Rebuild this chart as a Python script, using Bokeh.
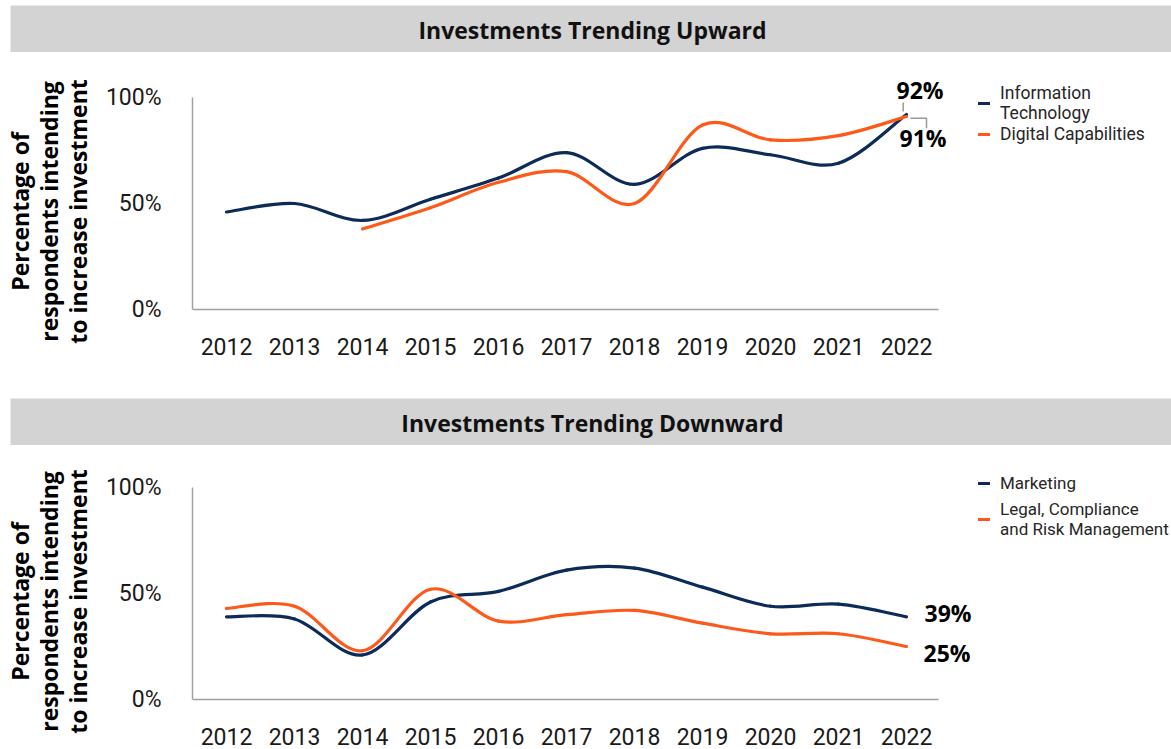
from bokeh.plotting import figure
from bokeh.models import (Range1d, FixedTicker, PrintfTickFormatter, Label,
                          Legend, LegendItem, ColumnDataSource, Spacer)
from bokeh.layouts import column, row
from bokeh.embed import file_html
from bokeh.resources import INLINE

# ---------------- data ----------------
years = [2012, 2013, 2014, 2015, 2016, 2017, 2018, 2019, 2020, 2021, 2022]
it_vals = [46, 50, 42, 52, 62, 74, 59, 76, 73, 69, 92]
dc_vals = [None, None, 38, 48, 60, 65, 50, 87, 80, 82, 91]
mk_vals = [39, 38, 21, 46, 51, 61, 62, 53, 44, 45, 39]
lc_vals = [43, 44, 23, 52, 37, 40, 42, 36, 31, 31, 25]
y_ticks = [0, 50, 100]

top_title = "Investments Trending Upward"
bottom_title = "Investments Trending Downward"
y_title = "Percentage of\nrespondents intending\nto increase investment"
top_names = ["Information\nTechnology", "Digital Capabilities"]
bottom_names = ["Marketing", "Legal, Compliance\nand Risk Management"]

# ---------------- style ----------------
NAVY = "#0d2b58"
ORANGE = "#fc5a1a"
HEAD = "#d3d3d3"
AXIS = "#a0a0a0"
LEAD = "#9a9a9a"
FONT = "Roboto"
BFONT = "Open Sans"
W = 1171
LEFT = 192          # frame left edge (px)
PXX = 68.0          # px per year
PXY = 2.12          # px per percent
X0 = 2011.5
X_AXIS_END = 2022.47
X1 = X0 + (W - LEFT) / PXX
HEAD_X = 10         # header band starts here


def smooth(xs, ys):
    """Bezier segments (Excel-style smoothed line) built from the data points."""
    pts = [(x, y) for x, y in zip(xs, ys) if y is not None]
    n = len(pts)
    d = dict(x0=[], y0=[], x1=[], y1=[], cx0=[], cy0=[], cx1=[], cy1=[])
    for i in range(n - 1):
        p0, p1 = pts[i], pts[i + 1]
        pm = pts[i - 1] if i > 0 else p0
        pp = pts[i + 2] if i + 2 < n else p1
        d["x0"].append(p0[0]); d["y0"].append(p0[1])
        d["x1"].append(p1[0]); d["y1"].append(p1[1])
        d["cx0"].append(p0[0] + (p1[0] - pm[0]) / 6.0)
        d["cy0"].append(p0[1] + (p1[1] - pm[1]) / 6.0)
        d["cx1"].append(p1[0] - (pp[0] - p0[0]) / 6.0)
        d["cy1"].append(p1[1] - (pp[1] - p0[1]) / 6.0)
    return ColumnDataSource(d)


def header(text, h):
    p = figure(width=W - HEAD_X, height=h, x_range=Range1d(0, 1), y_range=Range1d(0, 1),
               x_axis_type=None, y_axis_type=None, toolbar_location=None,
               output_backend="svg", title=None,
               min_border_left=0, min_border_right=0,
               min_border_top=0, min_border_bottom=0)
    p.background_fill_color = HEAD
    p.border_fill_color = HEAD
    p.outline_line_color = None
    p.add_layout(Label(x=592 - HEAD_X, y=h / 2.0 - 1, x_units="screen", y_units="screen",
                       text=text, text_align="center", text_baseline="middle",
                       text_font=BFONT, text_font_style="bold",
                       text_font_size="23px", text_color="#111111"))
    return row(Spacer(width=HEAD_X, height=h), p, spacing=0)


def panel(series, names, colors, fig_top, fig_bot, fr_top, zero, fr_bot,
          legend_loc, spacing, leg_size):
    """Page-pixel layout: figure fig_top..fig_bot, frame fr_top..fr_bot,
    0% line at `zero` (x axis is drawn there)."""
    p = figure(width=W, height=fig_bot - fig_top,
               x_range=Range1d(X0, X1),
               y_range=Range1d(-(fr_bot - zero) / PXY, (zero - fr_top) / PXY),
               toolbar_location=None, output_backend="svg", title=None,
               min_border_left=LEFT, min_border_right=0,
               min_border_top=fr_top - fig_top, min_border_bottom=fig_bot - fr_bot)
    p.outline_line_color = None
    p.grid.visible = False
    p.background_fill_color = "white"

    for ax in (p.xaxis, p.yaxis):
        ax.axis_line_color = AXIS
        ax.axis_line_width = 1.5
        ax.major_tick_line_color = None
        ax.minor_tick_line_color = None
        ax.major_label_text_font = FONT
        ax.major_label_text_font_size = "23px"
        ax.major_label_text_color = "#1a1a1a"
    p.yaxis.major_label_standoff = 25
    p.xaxis.major_label_standoff = 22

    p.xaxis.fixed_location = 0
    p.xaxis.bounds = (X0, X_AXIS_END)
    p.yaxis.bounds = (0, 100)
    p.xaxis.ticker = FixedTicker(ticks=years)
    p.yaxis.ticker = FixedTicker(ticks=y_ticks)
    p.yaxis.formatter = PrintfTickFormatter(format="%d%%")
    p.yaxis.axis_label = y_title
    p.yaxis.axis_label_text_font = BFONT
    p.yaxis.axis_label_text_font_style = "bold"
    p.yaxis.axis_label_text_font_size = "23px"
    p.yaxis.axis_label_text_color = "#000000"
    p.yaxis.axis_label_text_line_height = 0.9
    p.yaxis.axis_label_standoff = 9

    items = []
    for vals, name, col in zip(series, names, colors):
        r = p.bezier(x0="x0", y0="y0", x1="x1", y1="y1", cx0="cx0", cy0="cy0",
                     cx1="cx1", cy1="cy1", source=smooth(years, vals),
                     line_color=col, line_width=3.2, line_cap="round")
        items.append(LegendItem(label=name, renderers=[r]))

    leg = Legend(items=items, location=legend_loc, orientation="vertical",
                 glyph_width=12, glyph_height=20, label_height=20,
                 label_standoff=10, spacing=spacing, padding=0, margin=0,
                 border_line_color=None, background_fill_alpha=0,
                 label_text_font=FONT, label_text_font_size=leg_size,
                 label_text_color="#262626", label_text_line_height=1.1)
    p.add_layout(leg)
    return p


def end_label(p, x, y, dx, dy):
    p.add_layout(Label(x=x, y=y, text=f"{y}%", x_offset=dx, y_offset=dy,
                       text_align="left", text_baseline="middle",
                       text_font=BFONT, text_font_style="bold",
                       text_font_size="23px", text_color="#000000"))


# ---------------- top panel ----------------
h1 = header(top_title, 47)                       # page 5-52
p1 = panel([it_vals, dc_vals], top_names, [NAVY, ORANGE],
           52, 398, 60, 309, 362, (786, 218), 1, "17.5px")
xe = years[-1]
end_label(p1, xe, it_vals[-1], -10, 24)
end_label(p1, xe, dc_vals[-1], -7, -21)
# leader lines
p1.segment(x0=[xe - 3.3 / PXX], y0=[it_vals[-1] + 3 / PXY],
           x1=[xe - 3.3 / PXX], y1=[it_vals[-1] + 12 / PXY],
           line_color=LEAD, line_width=1.5)
p1.line(x=[xe + 4 / PXX, xe + 20 / PXX, xe + 20 / PXX],
        y=[dc_vals[-1] - 0.8, dc_vals[-1] - 0.8, dc_vals[-1] - 11.7 / PXY],
        line_color=LEAD, line_width=1.5)

# ---------------- bottom panel ----------------
h2 = header(bottom_title, 47)                    # page 398-445
p2 = panel([mk_vals, lc_vals], bottom_names, [NAVY, ORANGE],
           445, 749, 453, 699, 749, (786, 210), 6, "17px")
end_label(p2, xe, mk_vals[-1], 18, 4)
end_label(p2, xe, lc_vals[-1], 17, -6)

layout = column(Spacer(width=W, height=5), h1, p1, h2, p2, spacing=0)
open("out.html", "w").write(file_html(layout, INLINE))
